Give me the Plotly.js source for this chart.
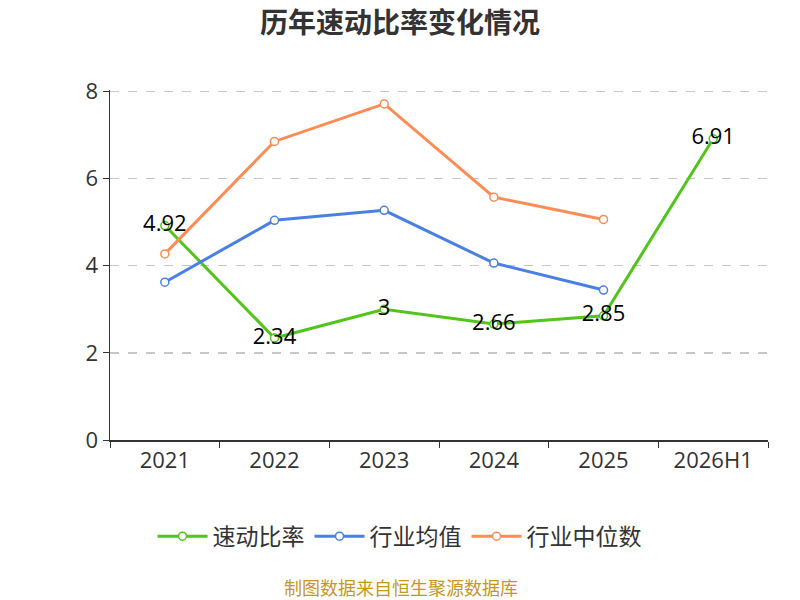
<!DOCTYPE html>
<html>
<head>
<meta charset="utf-8">
<script src="https://cdn.plot.ly/plotly-3.0.1.min.js"></script>
<style>
  html, body { margin: 0; padding: 0; background: #fff; }
  #chart { width: 800px; height: 600px; }
</style>
</head>
<body>
<div id="chart"></div>
<script>
var years = ['2021', '2022', '2023', '2024', '2025', '2026H1'];
var quickRatio = [4.92, 2.34, 3, 2.66, 2.85, 6.91];
var industryMean = [3.62, 5.04, 5.27, 4.06, 3.44];
var industryMedian = [4.27, 6.85, 7.71, 5.57, 5.06];

var font = '"Open Sans", "Noto Sans CJK SC", sans-serif';
var cjk = '"Noto Sans CJK SC", sans-serif';

function lineTrace(name, x, y, color) {
    return {
        x: x,
        y: y,
        name: name,
        type: 'scatter',
        mode: 'lines+markers',
        line: {color: color, width: 3},
        marker: {size: 8, color: '#fff', line: {color: color, width: 1.5}},
        cliponaxis: false
    };
}

var green = lineTrace('速动比率', years, quickRatio, '#52c41a');
green.mode = 'lines+markers+text';
green.text = quickRatio.map(function (v) { return String(v); });
green.textposition = 'middle center';
green.textfont = {family: font, size: 22, color: '#000'};

var data = [
    green,
    lineTrace('行业均值', years.slice(0, 5), industryMean, '#4a80e3'),
    lineTrace('行业中位数', years.slice(0, 5), industryMedian, '#ff8c55')
];

var layout = {
    width: 800,
    height: 600,
    margin: {l: 110, r: 32, t: 90, b: 160},
    paper_bgcolor: '#fff',
    plot_bgcolor: '#fff',
    font: {family: font, color: '#333'},
    title: {
        text: '<b>历年速动比率变化情况</b>',
        font: {family: cjk, size: 28, color: '#333'},
        x: 0.5, xanchor: 'center',
        y: 0.962, yanchor: 'middle'
    },
    showlegend: true,
    legend: {
        orientation: 'h',
        x: 0.44, xanchor: 'center',
        y: -0.275, yanchor: 'middle',
        font: {family: cjk, size: 23, color: '#333'},
        itemwidth: 50
    },
    xaxis: {
        type: 'category',
        range: [-0.5, 5.5],
        showline: true,
        linecolor: '#333',
        linewidth: 1.5,
        ticks: 'outside',
        tickson: 'boundaries',
        ticklen: 6,
        tickcolor: '#333',
        showgrid: false,
        zeroline: false,
        tickfont: {family: font, size: 22, color: '#333'}
    },
    yaxis: {
        range: [0, 8.03],
        tickvals: [0, 2, 4, 6, 8],
        showline: true,
        linecolor: '#333',
        linewidth: 1.5,
        ticks: 'outside',
        ticklen: 6,
        tickcolor: '#333',
        showgrid: true,
        gridcolor: '#c8c8c8',
        griddash: 'dash',
        gridwidth: 1.5,
        zeroline: false,
        tickfont: {family: font, size: 22, color: '#333'}
    },
    annotations: [{
        text: '制图数据来自恒生聚源数据库',
        xref: 'paper', yref: 'paper',
        x: 0.443, xanchor: 'center',
        y: -0.42, yanchor: 'middle',
        showarrow: false,
        font: {family: cjk, size: 18, color: '#c8961e'}
    }]
};

Plotly.newPlot('chart', data, layout, {displayModeBar: false, staticPlot: true});
</script>
</body>
</html>
